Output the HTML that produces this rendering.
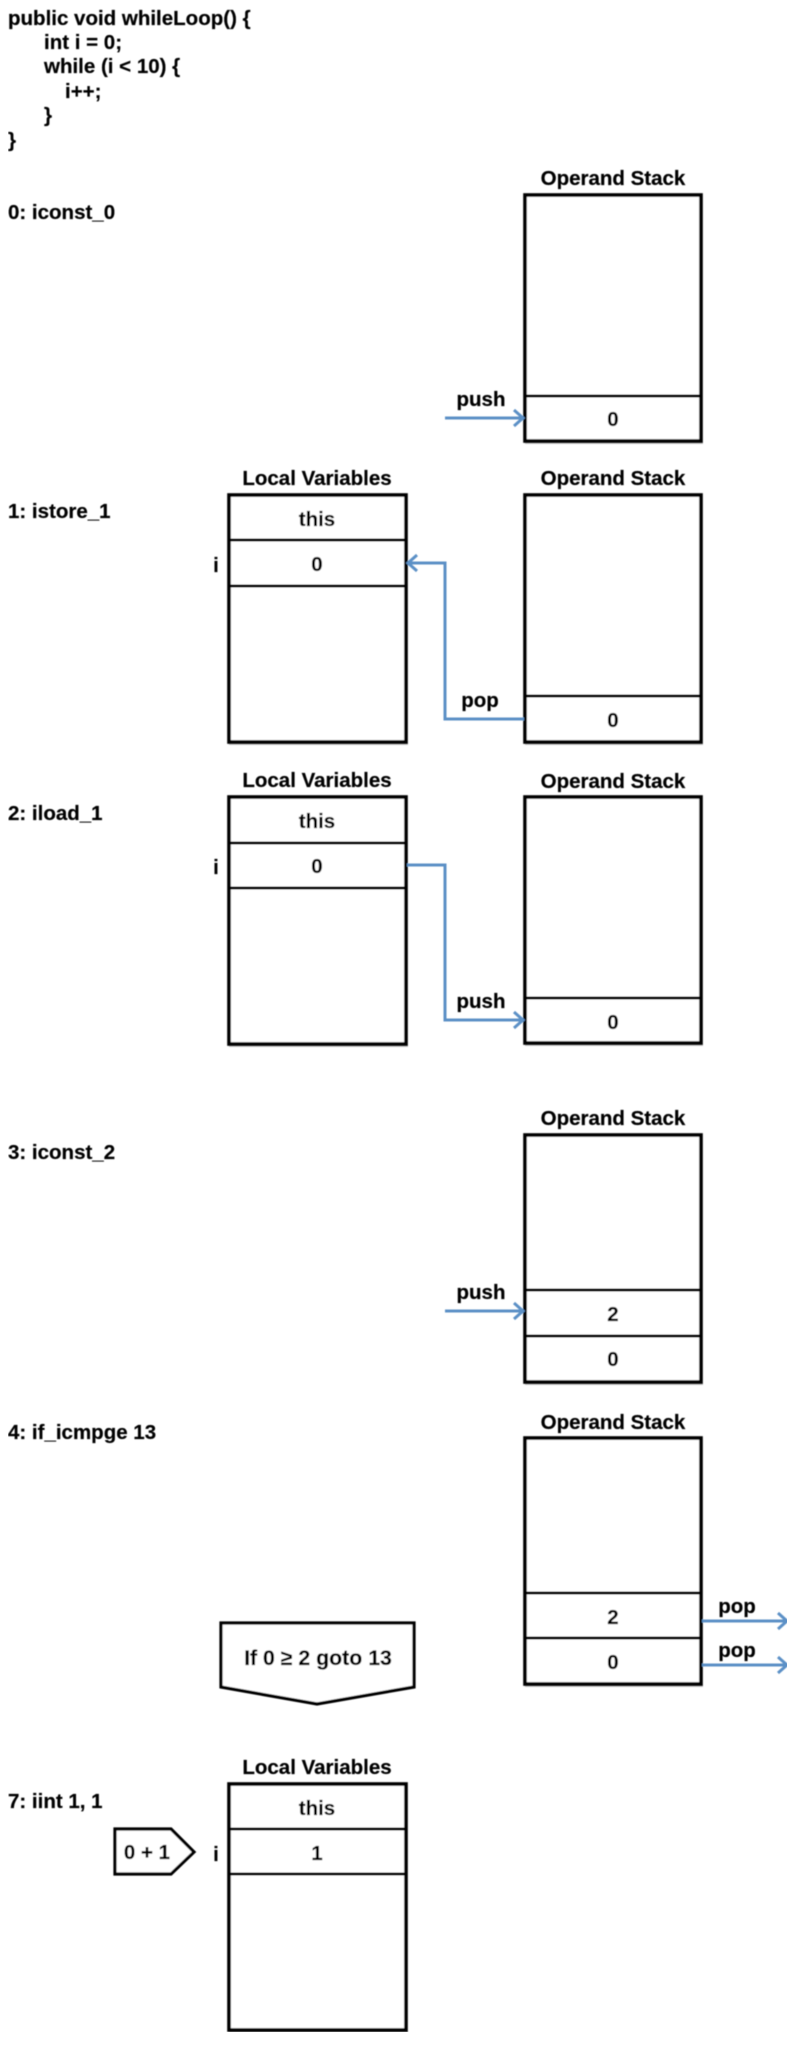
<!DOCTYPE html>
<html lang="en">
<head>
<meta charset="utf-8">
<title>While loop bytecode operand stack diagram</title>
<style>
html,body{margin:0;padding:0;background:#fff;width:798px;height:2049px;overflow:hidden}
svg{display:block}
text{font-family:"Liberation Sans",Arial,sans-serif;font-weight:700;font-size:20.5px;fill:#000;stroke:#000;stroke-width:.2}
.m{text-anchor:middle}
.box{fill:#fff;stroke:#000;stroke-width:3.6}
.shadow{stroke:#000;stroke-opacity:.22;stroke-width:2;fill:none}
.div{stroke:#000;stroke-width:3;fill:none}
.arrow{stroke:#5b90c6;stroke-width:3;fill:none}
.head{stroke:#5b90c6;stroke-width:3;fill:none}
.shape{fill:#fff;stroke:#000;stroke-width:3.2}
#all{filter:url(#soft)}
</style>
</head>
<body>
<svg width="798" height="2049" viewBox="0 0 798 2049" xmlns="http://www.w3.org/2000/svg">
<defs><filter id="soft" x="0" y="0" width="100%" height="100%"><feGaussianBlur stdDeviation="0.4"/></filter></defs>
<rect x="0" y="0" width="798" height="2049" fill="#fff"/>
<g id="all">

<g>
<text x="8" y="25">public void whileLoop() {</text>
<text x="44" y="49">int i = 0;</text>
<text x="44" y="73">while (i &lt; 10) {</text>
<text x="65" y="98">i++;</text>
<text x="44" y="122">}</text>
<text x="8" y="147">}</text>
</g>

<g transform="translate(-1,0)">
<text x="9" y="219">0: iconst_0</text>
<text class="m" x="614" y="185">Operand Stack</text>
<line class="shadow" x1="526" x2="704" y1="443" y2="443"/>
<rect class="box" x="526" y="195" width="176" height="246"/>
<line class="div" x1="526" x2="702" y1="396" y2="396"/>
<text class="m" x="614" y="426">0</text>
<text class="m" x="482" y="406">push</text>
<path class="arrow" d="M446 418H524"/>
<path class="head" d="M515 410L524 418L515 426"/>
</g>

<g transform="translate(-1,0)">
<text x="9" y="518">1: istore_1</text>
<text class="m" x="318" y="485">Local Variables</text>
<line class="shadow" x1="230" x2="409" y1="744" y2="744"/>
<rect class="box" x="230" y="495" width="177" height="247"/>
<line class="div" x1="230" x2="407" y1="540" y2="540"/>
<line class="div" x1="230" x2="407" y1="586" y2="586"/>
<text class="m" x="318" y="526">this</text>
<text class="m" x="318" y="571">0</text>
<text class="m" x="217" y="572">i</text>
<text class="m" x="614" y="485">Operand Stack</text>
<line class="shadow" x1="526" x2="704" y1="744" y2="744"/>
<rect class="box" x="526" y="495" width="176" height="247"/>
<line class="div" x1="526" x2="702" y1="696" y2="696"/>
<text class="m" x="614" y="727">0</text>
<text class="m" x="481" y="707">pop</text>
<path class="arrow" d="M525 719H446V563H409"/>
<path class="head" d="M418 555L409 563L418 571"/>
</g>

<g transform="translate(-1,-1)">
<text x="9" y="821">2: iload_1</text>
<text class="m" x="318" y="788">Local Variables</text>
<line class="shadow" x1="230" x2="409" y1="1047" y2="1047"/>
<rect class="box" x="230" y="798" width="177" height="247"/>
<line class="div" x1="230" x2="407" y1="844" y2="844"/>
<line class="div" x1="230" x2="407" y1="889" y2="889"/>
<text class="m" x="318" y="829">this</text>
<text class="m" x="318" y="874">0</text>
<text class="m" x="217" y="875">i</text>
<text class="m" x="614" y="789">Operand Stack</text>
<line class="shadow" x1="526" x2="704" y1="1046" y2="1046"/>
<rect class="box" x="526" y="798" width="176" height="246"/>
<line class="div" x1="526" x2="702" y1="999" y2="999"/>
<text class="m" x="614" y="1030">0</text>
<text class="m" x="482" y="1009">push</text>
<path class="arrow" d="M408 866H446V1021H524"/>
<path class="head" d="M515 1013L524 1021L515 1029"/>
</g>

<g transform="translate(-1,-1)">
<text x="9" y="1160">3: iconst_2</text>
<text class="m" x="614" y="1126">Operand Stack</text>
<line class="shadow" x1="526" x2="704" y1="1385" y2="1385"/>
<rect class="box" x="526" y="1136" width="176" height="247"/>
<line class="div" x1="526" x2="702" y1="1291" y2="1291"/>
<line class="div" x1="526" x2="702" y1="1337" y2="1337"/>
<text class="m" x="614" y="1322">2</text>
<text class="m" x="614" y="1367">0</text>
<text class="m" x="482" y="1300">push</text>
<path class="arrow" d="M446 1312H524"/>
<path class="head" d="M515 1304L524 1312L515 1320"/>
</g>

<g transform="translate(-1,-1)">
<text x="9" y="1440">4: if_icmpge 13</text>
<text class="m" x="614" y="1430">Operand Stack</text>
<line class="shadow" x1="526" x2="704" y1="1687" y2="1687"/>
<rect class="box" x="526" y="1439" width="176" height="246"/>
<line class="div" x1="526" x2="702" y1="1594" y2="1594"/>
<line class="div" x1="526" x2="702" y1="1639" y2="1639"/>
<text class="m" x="614" y="1625">2</text>
<text class="m" x="614" y="1670">0</text>
<text class="m" x="738" y="1614">pop</text>
<text class="m" x="738" y="1658">pop</text>
<path class="arrow" d="M703 1622H788"/>
<path class="head" d="M779 1614L788 1622L779 1630"/>
<path class="arrow" d="M703 1666H788"/>
<path class="head" d="M779 1658L788 1666L779 1674"/>
<path class="shape" d="M222 1624H415V1688L318 1705L222 1688Z"/>
<text class="m" x="319" y="1666" style="font-size:21.3px">If 0 ≥ 2 goto 13</text>
</g>

<g transform="translate(-1,-1)">
<text x="9" y="1809">7: iint 1, 1</text>
<text class="m" x="318" y="1775">Local Variables</text>
<line class="shadow" x1="230" x2="409" y1="2033" y2="2033"/>
<rect class="box" x="230" y="1785" width="177" height="246"/>
<line class="div" x1="230" x2="407" y1="1830" y2="1830"/>
<line class="div" x1="230" x2="407" y1="1875" y2="1875"/>
<text class="m" x="318" y="1816">this</text>
<text class="m" x="318" y="1861">1</text>
<text class="m" x="217" y="1862">i</text>
<path class="shape" d="M116 1830H172L195 1853L172 1875H116Z"/>
<text class="m" x="148" y="1860">0 + 1</text>
</g>

</g>
</svg>
</body>
</html>
